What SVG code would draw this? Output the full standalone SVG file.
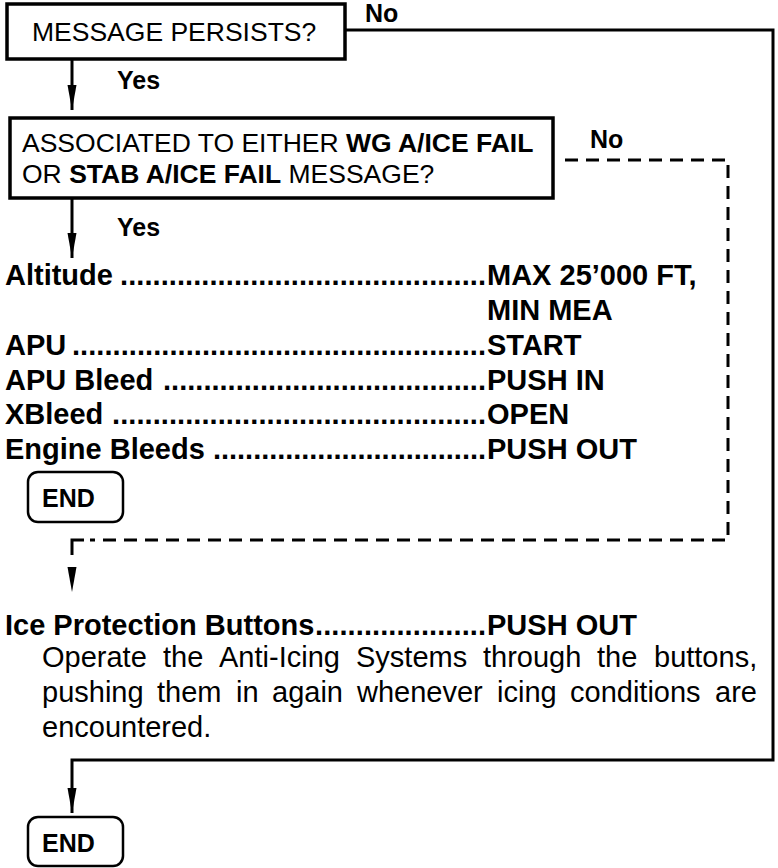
<svg xmlns="http://www.w3.org/2000/svg" width="778" height="868" viewBox="0 0 778 868">
<style>
.t{font-family:"Liberation Sans",Arial,Helvetica,sans-serif;fill:#000}
.r{font-size:26.5px}
.b{font-weight:bold}
.li{font-size:29px;font-weight:bold}
.lab{font-size:25px;font-weight:bold}
.body{font-size:29px}
.box{fill:#fff;stroke:#000;stroke-width:3.5}
.end{fill:#fff;stroke:#000;stroke-width:2.5}
.ln{fill:none;stroke:#000;stroke-width:3}
.dash{fill:none;stroke:#000;stroke-width:3;stroke-dasharray:13 8}
</style>
<defs>
<marker id="ah" markerUnits="userSpaceOnUse" viewBox="0 -5 26 10" refX="25" refY="0" markerWidth="26" markerHeight="10" orient="auto"><path d="M0,-4.5 L25,0 L0,4.5 z" fill="#000"/></marker>
</defs>
<rect width="778" height="868" fill="#fff"/>
<g id="connectors">
<path class="ln" d="M72,59 V110" marker-end="url(#ah)"/>
<path class="ln" d="M72,198 V258" marker-end="url(#ah)"/>
<path class="ln" d="M345,30 H773 V760 H72 V813" marker-end="url(#ah)"/>
<path class="dash" d="M565,160 H728 V540 H90"/>
<path class="ln" d="M84,540 H72 V555"/>
<polygon points="67.5,567 76.5,567 72,592" fill="#000"/>
<text class="t lab" x="365" y="22">No</text>
<text class="t lab" x="117" y="89">Yes</text>
<text class="t lab" x="590" y="148">No</text>
<text class="t lab" x="117" y="236">Yes</text>
</g>
<g id="q1">
<rect class="box" x="7" y="4" width="338" height="55"/>
<text class="t r" x="32" y="41">MESSAGE PERSISTS?</text>
</g>
<g id="q2">
<rect class="box" x="10" y="118" width="543" height="80"/>
<text class="t r" x="22" y="152">ASSOCIATED TO EITHER <tspan class="b">WG A/ICE FAIL</tspan></text>
<text class="t r" x="22" y="183">OR <tspan class="b">STAB A/ICE FAIL</tspan> MESSAGE?</text>
</g>
<g id="checklist">
<text class="t li" x="5" y="285">Altitude</text>
<text class="t li" x="120" y="285" textLength="366" lengthAdjust="spacing">.............................................</text>
<text class="t li" x="487" y="285">MAX 25’000 FT,</text>
<text class="t li" x="487" y="320">MIN MEA</text>
<text class="t li" x="5" y="355">APU</text>
<text class="t li" x="72" y="355" textLength="414" lengthAdjust="spacing">...................................................</text>
<text class="t li" x="487" y="355">START</text>
<text class="t li" x="5" y="390">APU Bleed</text>
<text class="t li" x="163" y="390" textLength="323" lengthAdjust="spacing">........................................</text>
<text class="t li" x="487" y="390">PUSH IN</text>
<text class="t li" x="5" y="424">XBleed</text>
<text class="t li" x="112" y="424" textLength="374" lengthAdjust="spacing">..............................................</text>
<text class="t li" x="487" y="424">OPEN</text>
<text class="t li" x="5" y="459">Engine Bleeds</text>
<text class="t li" x="213" y="459" textLength="273" lengthAdjust="spacing">..................................</text>
<text class="t li" x="487" y="459">PUSH OUT</text>
</g>
<g id="end1">
<rect class="end" x="28" y="472" width="95" height="50" rx="10"/>
<text class="t lab" x="42" y="507">END</text>
</g>
<g id="ice">
<text class="t li" x="5" y="635">Ice Protection Buttons</text>
<text class="t li" x="315" y="635" textLength="171" lengthAdjust="spacing">.....................</text>
<text class="t li" x="487" y="635">PUSH OUT</text>
<text class="t body" y="667"><tspan x="42">Operate</tspan><tspan x="163">the</tspan><tspan x="219">Anti-Icing</tspan><tspan x="356">Systems</tspan><tspan x="483">through</tspan><tspan x="597">the</tspan><tspan x="654">buttons,</tspan></text>
<text class="t body" y="702"><tspan x="42">pushing</tspan><tspan x="157">them</tspan><tspan x="236">in</tspan><tspan x="272">again</tspan><tspan x="357">whenever</tspan><tspan x="497">icing</tspan><tspan x="570">conditions</tspan><tspan x="757" text-anchor="end">are</tspan></text>
<text class="t body" x="42" y="737">encountered.</text>
</g>
<g id="end2">
<rect class="end" x="28" y="817" width="95" height="49" rx="10"/>
<text class="t lab" x="42" y="852">END</text>
</g>
</svg>
